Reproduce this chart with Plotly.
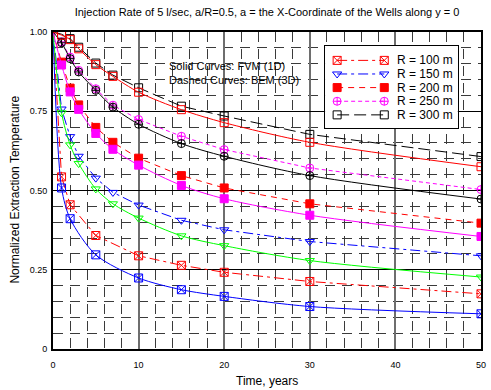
import plotly.graph_objects as go

# Sampling times (years); the R = 100 m runs were saved at fewer times
t_main = [0, 1, 2, 3, 5, 7, 10, 15, 20, 30, 50]
t_r100 = [0, 1, 2, 5, 10, 15, 20, 30, 50]

# Normalized extraction temperature, FVM (1D) results
fvm_100 = [1.0, 0.508, 0.411, 0.297, 0.224, 0.187, 0.166, 0.134, 0.111]
fvm_150 = [1.0, 0.745, 0.644, 0.585, 0.505, 0.458, 0.413, 0.357, 0.326, 0.279, 0.227]
fvm_200 = [1.0, 0.896, 0.811, 0.756, 0.680, 0.630, 0.580, 0.516, 0.474, 0.422, 0.355]
fvm_250 = [1.0, 0.966, 0.916, 0.874, 0.816, 0.763, 0.709, 0.648, 0.608, 0.547, 0.473]
fvm_300 = [1.0, 0.990, 0.976, 0.947, 0.897, 0.860, 0.810, 0.755, 0.714, 0.652, 0.575]

# Normalized extraction temperature, BEM (3D) results
bem_100 = [1.0, 0.543, 0.455, 0.358, 0.294, 0.264, 0.242, 0.213, 0.174]
bem_150 = [1.0, 0.757, 0.670, 0.608, 0.539, 0.494, 0.454, 0.406, 0.376, 0.339, 0.294]
bem_200 = [1.0, 0.905, 0.823, 0.770, 0.699, 0.652, 0.602, 0.547, 0.508, 0.458, 0.397]
bem_250 = [1.0, 0.969, 0.921, 0.879, 0.821, 0.769, 0.724, 0.671, 0.629, 0.571, 0.503]
bem_300 = [1.0, 0.993, 0.979, 0.952, 0.902, 0.864, 0.824, 0.766, 0.735, 0.677, 0.607]

legend_labels = ["R = 100 m", "R = 150 m", "R = 200 m", "R = 250 m", "R = 300 m"]

x_ticks = [0, 10, 20, 30, 40, 50]
y_ticks = [0, 0.25, 0.5, 0.75, 1.0]
y_ticktext = ["0", "0.25", "0.50", "0.75", "1.00"]

RED, BLUE, GREEN, MAGENTA, BLACK = "#ff0000", "#0000ff", "#00ff00", "#ff00ff", "#000000"
DASHDOT = "10px,4px,3px,4px"

# (times, values, colour, marker symbol, dash)
solid_curves = [
    (t_r100, fvm_100, BLUE, "square-x-open", "solid"),
    (t_main, fvm_150, GREEN, "triangle-down-open", "solid"),
    (t_main, fvm_200, MAGENTA, "square", "solid"),
    (t_main, fvm_250, BLACK, "circle-cross-open", "solid"),
    (t_main, fvm_300, RED, "square-open", "solid"),
]
dashed_curves = [
    (t_r100, bem_100, RED, "square-x-open", DASHDOT),
    (t_main, bem_150, BLUE, "triangle-down-open", DASHDOT),
    (t_main, bem_200, RED, "square", "6px,5px"),
    (t_main, bem_250, MAGENTA, "circle-cross-open", "4px,3px"),
    (t_main, bem_300, BLACK, "square-open", "12px,5px"),
]

FONT = "Liberation Sans, Arial, sans-serif"
fig = go.Figure()


def add_curve(t, v, color, symbol, dash, shape):
    # no marker at t = 0, the common starting value
    opac = [0] + [1] * (len(t) - 1)
    fig.add_trace(go.Scatter(
        x=t, y=v, mode="lines+markers", showlegend=False, hoverinfo="skip",
        line=dict(color=color, width=1, dash=dash, shape=shape, smoothing=0.8),
        marker=dict(symbol=symbol, size=8, color=color, opacity=opac,
                    line=dict(color=color, width=1)),
        xaxis="x", yaxis="y",
    ))


for c in dashed_curves:
    add_curve(*c, shape="linear")
for c in solid_curves:
    add_curve(*c, shape="spline")

# Legend panel drawn in its own small axes so it sits above the grid
fig.add_trace(go.Scatter(
    x=[0, 1, 1, 0, 0], y=[0, 0, 1, 1, 0], mode="lines", fill="toself",
    fillcolor="white", line=dict(width=0), showlegend=False, hoverinfo="skip",
    xaxis="x2", yaxis="y2",
))
row_y = [0.821, 0.656, 0.491, 0.325, 0.160]
for (t, v, color, symbol, dash), label, ry in zip(dashed_curves, legend_labels, row_y):
    fig.add_trace(go.Scatter(
        x=[0.09, 0.446], y=[ry, ry], mode="lines+markers", showlegend=False,
        hoverinfo="skip", xaxis="x2", yaxis="y2",
        line=dict(color=color, width=1, dash=dash),
        marker=dict(symbol=symbol, size=8, color=color, line=dict(color=color, width=1)),
    ))
    fig.add_annotation(x=0.53, y=ry, xref="x2", yref="y2", text=label,
                       showarrow=False, xanchor="left", yanchor="middle",
                       font=dict(family=FONT, size=12, color="black"))

fig.add_annotation(x=13.3, y=0.894, xref="x", yref="y", text="Solid Curves: FVM (1D)",
                   showarrow=False, xanchor="left", yanchor="middle",
                   font=dict(family=FONT, size=11, color="black"))
fig.add_annotation(x=13.3, y=0.850, xref="x", yref="y", text="Dashed Curves: BEM (3D)",
                   showarrow=False, xanchor="left", yanchor="middle",
                   font=dict(family=FONT, size=11, color="black"))

# Axis titles
fig.add_annotation(x=0.5, y=-0.1, xref="paper", yref="paper", text="Time, years",
                   showarrow=False, xanchor="center", yanchor="middle",
                   font=dict(family=FONT, size=12, color="black"))
fig.add_annotation(x=-0.089, y=0.5025, xref="paper", yref="paper",
                   text="Normalized Extraction Temperature", textangle=-90,
                   showarrow=False, xanchor="center", yanchor="middle",
                   font=dict(family=FONT, size=12, color="black"))

fig.update_layout(
    width=491, height=390,
    margin=dict(l=53, r=5, t=32, b=41),
    paper_bgcolor="white", plot_bgcolor="white",
    font=dict(family=FONT, size=9, color="black"),
    title=dict(text="Injection Rate of 5 l/sec, a/R=0.5, a = the X-Coordinate of the Wells along y = 0",
               x=0.5, xref="paper", xanchor="center", y=0.969, yref="container",
               yanchor="middle", font=dict(family=FONT, size=11, color="black")),
    xaxis=dict(
        domain=[0, 1], range=[0, 50], tickmode="array", tickvals=x_ticks,
        showgrid=True, gridcolor="#6e6e6e", gridwidth=1.5, zeroline=False,
        showline=True, mirror=True, linecolor="black", linewidth=2, ticks="",
        tickfont=dict(size=9), ticklabelstandoff=6,
        minor=dict(tickmode="linear", tick0=0, dtick=2, showgrid=True,
                   gridcolor="#3a3a3a", gridwidth=1, griddash="10px,7px"),
    ),
    yaxis=dict(
        domain=[0, 1], range=[0, 1], tickmode="array", tickvals=y_ticks,
        ticktext=y_ticktext, showgrid=True, gridcolor="black", gridwidth=1,
        zeroline=False, showline=True, mirror=True, linecolor="black",
        linewidth=2, ticks="", tickfont=dict(size=9), ticklabelstandoff=2,
        minor=dict(tickmode="linear", tick0=0, dtick=0.05, showgrid=True,
                   gridcolor="#3a3a3a", gridwidth=1, griddash="10px,7px"),
    ),
    xaxis2=dict(domain=[0.636, 0.9455], range=[0, 1], anchor="y2", showgrid=False,
                zeroline=False, showticklabels=False, ticks="", showline=True,
                mirror=True, linecolor="black", linewidth=1, fixedrange=True),
    yaxis2=dict(domain=[0.697, 0.957], range=[0, 1], anchor="x2", showgrid=False,
                zeroline=False, showticklabels=False, ticks="", showline=True,
                mirror=True, linecolor="black", linewidth=1, fixedrange=True),
)

fig.write_html("out.html")
